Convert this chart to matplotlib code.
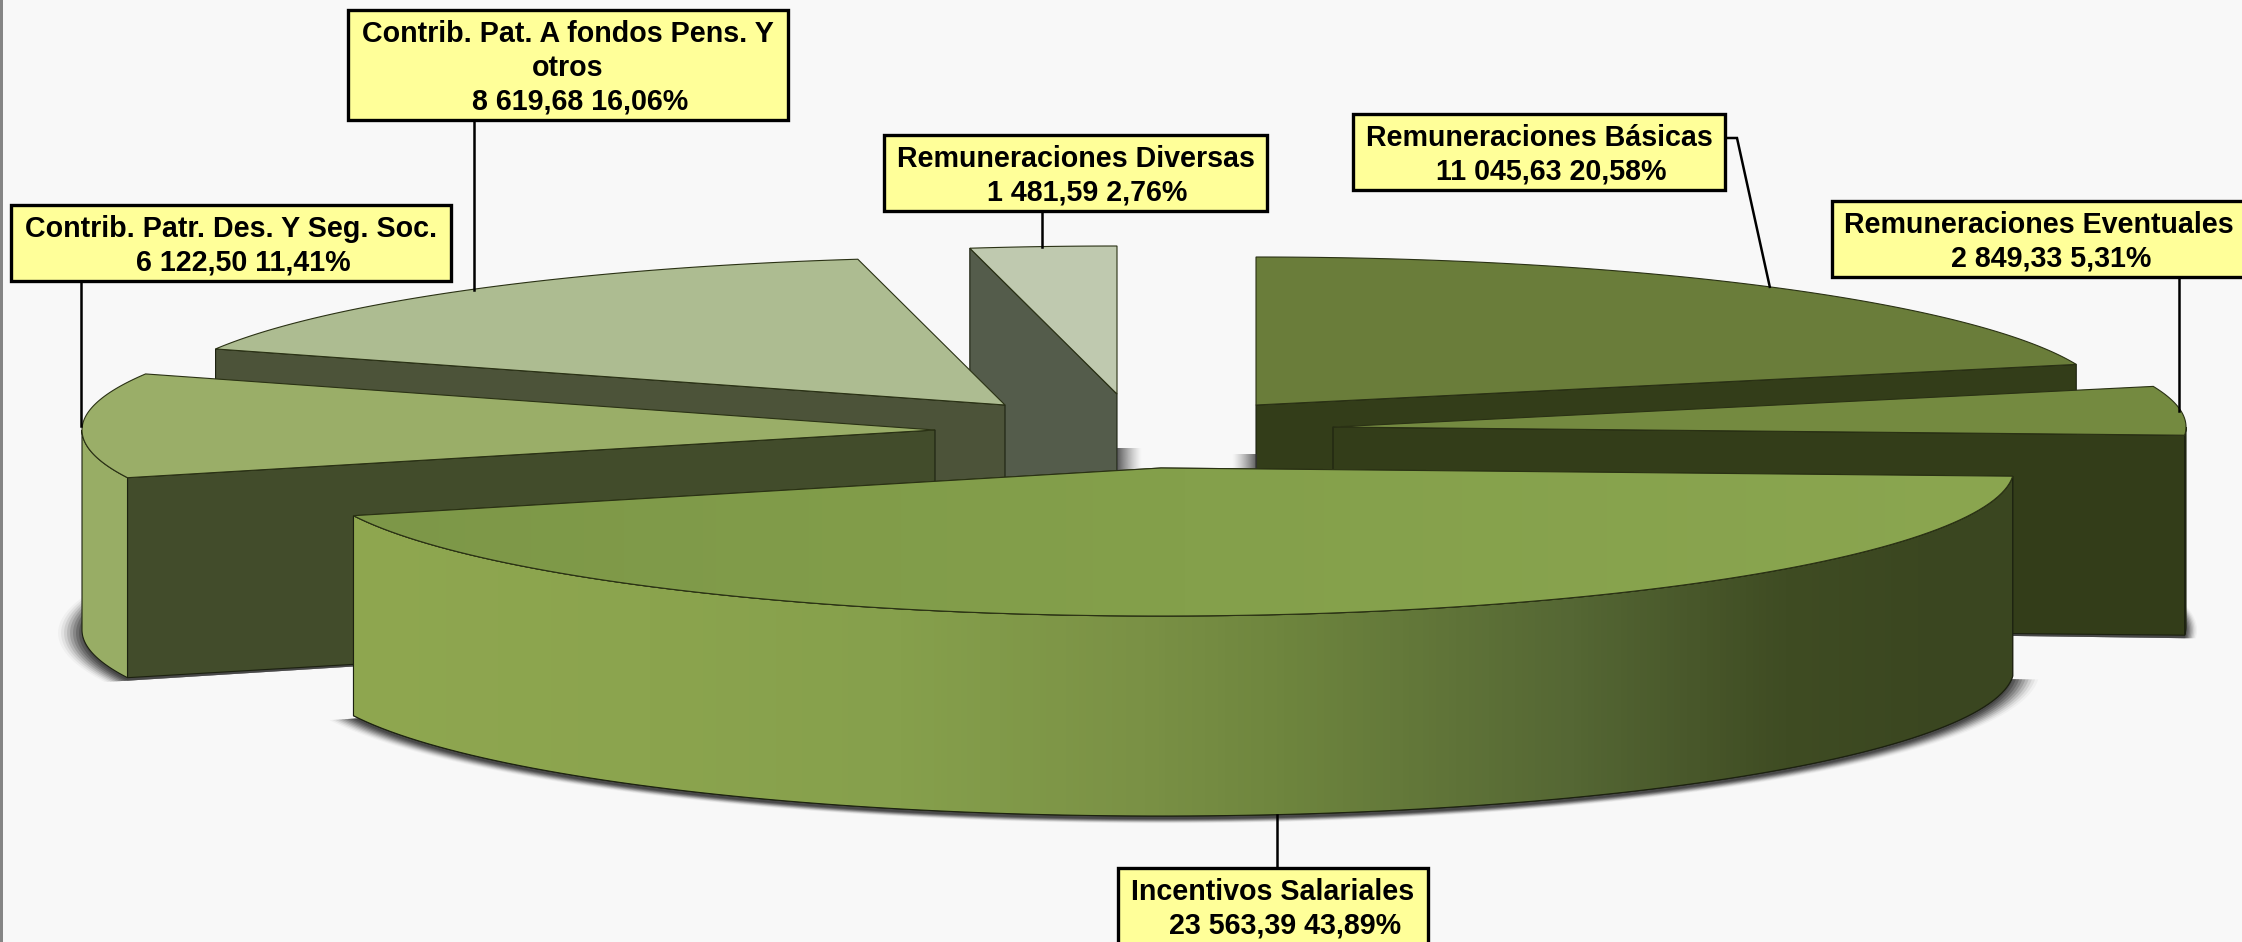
import numpy as np
import matplotlib
matplotlib.use("Agg")
import matplotlib.pyplot as plt
from matplotlib.patches import Polygon, Rectangle
from matplotlib.colors import LinearSegmentedColormap, to_rgb

# clockwise from twelve o'clock
categories = ["Remuneraciones Básicas", "Remuneraciones Eventuales", "Incentivos Salariales",
              "Contrib. Patr. Des. Y Seg. Soc.", "Contrib. Pat. A fondos Pens. Y\notros",
              "Remuneraciones Diversas"]
values = [11045.63, 2849.33, 23563.39, 6122.50, 8619.68, 1481.59]
percents = [20.58, 5.31, 43.89, 11.41, 16.06, 2.76]

top_colors = ["#6a7d3a", "#748a40", "#84a04b", "#9aae68", "#adbc91", "#bfc9af"]
wall_colors = ["#333d19", "#333d19", "#3a4620", "#424c2b", "#4c5339", "#545c4b"]
rim_colors = ["#333d19", "#333d19", "#3a4620", "#98ad65", "#4c5339", "#545c4b"]

# pixel layout of the exploded pie
RX, RY, DEPTH = 853, 148, 200
centers = [(1256, 405), (1333, 427), (1161, 468), (935, 430), (1005, 405), (1117, 394)]
shadow_scale = [1.012, 1.013, 1.03, 1.028, 1.0, 1.0]
draw_order = [5, 4, 0, 1, 3, 2]

# x0, x1, y0, y1 of the callouts and where their leaders leave them
boxes = [(1353, 1725, 114, 190), (1832, 2246, 201, 277), (1118, 1428, 868, 946),
         (11, 451, 205, 281), (348, 788, 10, 120), (884, 1267, 135, 211)]
leader_starts = [(1737, 138), (2179, 277), (1277, 868), (81, 281), (474, 120), (1042, 211)]

side_x = [340, 650, 900, 1144, 1287, 1573, 1787, 1950, 2030]
side_cols = ["#8fa750", "#8ba44e", "#86a04c", "#7a9145", "#6e853e", "#556734", "#3f4c23", "#3a4620", "#3a4620"]


def rim(center, a0, a1, n=120, drop=0, scale=1.0):
    t = np.radians(np.linspace(a0, a1, n))
    x = center[0] + scale * RX * np.cos(t)
    y = center[1] - scale * RY * np.sin(t) + drop
    return np.column_stack([x, y])


def fade_patch(ax, x0, x1, y0, y1, reverse, z):
    # little soft shadows that peek out above the big slice
    rgba = np.zeros((1, 64, 4))
    rgba[..., :3] = 0.2
    rgba[..., 3] = np.linspace(0.85, 0, 64) ** 1.3
    if reverse:
        rgba = rgba[:, ::-1]
    ax.imshow(rgba, extent=[x0, x1, y1, y0], aspect="auto", zorder=z, interpolation="bilinear")


def number_label(value):
    whole, dec = f"{value:.2f}".split(".")
    return f"{int(whole):,}".replace(",", " ") + "," + dec


plt.rcParams["font.family"] = ["Liberation Sans", "DejaVu Sans"]
fig = plt.figure(figsize=(22.42, 9.42), dpi=100, facecolor="#f8f8f8")
ax = fig.add_axes([0, 0, 1, 1])
ax.set_axis_off()

# angles from the values, clockwise starting at the top
total = sum(values)
sweeps = [v / total * 360 for v in values]
starts = [90 - sum(sweeps[:i]) for i in range(len(values))]
ends = [s - w for s, w in zip(starts, sweeps)]

z = 2
for i in draw_order:
    c, a0, a1 = centers[i], starts[i], ends[i]

    if i == 2:
        fade_patch(ax, 1117, 1142, 448, 470, False, z)
        fade_patch(ax, 1232, 1257, 454, 470, True, z)
        z += 1

    # blurred shadow of the bottom face
    if shadow_scale[i] > 1:
        for s, alpha in zip(np.linspace(shadow_scale[i], 1.0, 9), [0.04, 0.07, 0.1, 0.14, 0.18, 0.22, 0.28, 0.34, 0.4]):
            bottom = rim(c, a0, a1, drop=DEPTH + 3, scale=s)
            ax.add_patch(Polygon(np.vstack([[c[0], c[1] + DEPTH], bottom]), fc="#303030", ec="none", alpha=alpha, zorder=z))
        z += 1

    # radial walls that face the viewer
    for ang, side in ((a0, 90), (a1, -90)):
        if np.sin(np.radians(ang + side)) < -1e-6:
            p = rim(c, ang, ang, n=1)[0]
            quad = [c, p, (p[0], p[1] + DEPTH), (c[0], c[1] + DEPTH)]
            ax.add_patch(Polygon(quad, fc=wall_colors[i], ec="#1c2110", lw=0.8, zorder=z))
            z += 1

    # outer rim, only its front part
    lo, hi = max(a1, -180), min(a0, 0)
    if hi > lo:
        upper = rim(c, lo, hi)
        lower = rim(c, hi, lo, drop=DEPTH)
        strip = Polygon(np.vstack([upper, lower]), fc=rim_colors[i], ec="#1c2110", lw=0.8, zorder=z)
        ax.add_patch(strip)
        if i == 2:
            cmap = LinearSegmentedColormap.from_list(
                "side", [((x - side_x[0]) / (side_x[-1] - side_x[0]), to_rgb(col)) for x, col in zip(side_x, side_cols)])
            im = ax.imshow(np.linspace(0, 1, 512)[None, :], extent=[side_x[0], side_x[-1], 850, 400], aspect="auto",
                           cmap=cmap, zorder=z + 1)
            im.set_clip_path(strip)
            ax.add_patch(Polygon(np.vstack([upper, lower]), fc="none", ec="#1c2110", lw=0.8, zorder=z + 2))
            z += 2
        z += 1

    # top face
    top = Polygon(np.vstack([c, rim(c, a0, a1)]), fc=top_colors[i], ec="#2a3114", lw=0.8, zorder=z)
    ax.add_patch(top)
    z += 1

    if i == 2:
        cmap = LinearSegmentedColormap.from_list("top", ["#7d9748", "#84a04b", "#8ba650"])
        im = ax.imshow(np.linspace(0, 1, 256)[None, :], extent=[340, 2030, 620, 460], aspect="auto", cmap=cmap, zorder=z)
        im.set_clip_path(top)
        ax.add_patch(Polygon(np.vstack([c, rim(c, a0, a1)]), fc="none", ec="#2a3114", lw=0.8, zorder=z + 1))
        z += 2

# callouts
for i, name in enumerate(categories):
    mid = np.radians((starts[i] + ends[i]) / 2)
    sx, sy = leader_starts[i]
    end_y = centers[i][1] - RY * np.sin(mid) + (DEPTH if np.sin(mid) < 0 else 0)
    if i == 0:
        end_x = centers[i][0] + RX * np.cos(mid)
        xs, ys = [boxes[0][1], sx, end_x], [sy, sy, end_y]
    else:
        xs, ys = [sx, sx], [sy, end_y]
    ax.plot(xs, ys, color="black", lw=1.8, zorder=z, solid_joinstyle="miter")

    x0, x1, y0, y1 = boxes[i]
    ax.add_patch(Rectangle((x0, y0), x1 - x0, y1 - y0, fc="#ffff99", ec="black", lw=2.4, zorder=z + 1))
    lines = name.split("\n")
    mx = (x0 + x1) / 2
    for k, line in enumerate(lines):
        ax.text(mx, y0 + 24 + 33.5 * k, line, ha="center", va="center", fontsize=20.6, fontweight="bold", zorder=z + 2)
    ax.text(mx + 12, y0 + 24 + 33.5 * len(lines), f"{number_label(values[i])} {percents[i]:.2f}%".replace(".", ","),
            ha="center", va="center", fontsize=20.6, fontweight="bold", zorder=z + 2)

# grey strip of the frame on the left
ax.add_patch(Rectangle((0, 0), 3, 942, fc="#858585", ec="none", zorder=z + 3))

ax.set_xlim(0, 2242)
ax.set_ylim(942, 0)
ax.set_aspect("auto")

fig.savefig("out.png", dpi=100, facecolor=fig.get_facecolor())
